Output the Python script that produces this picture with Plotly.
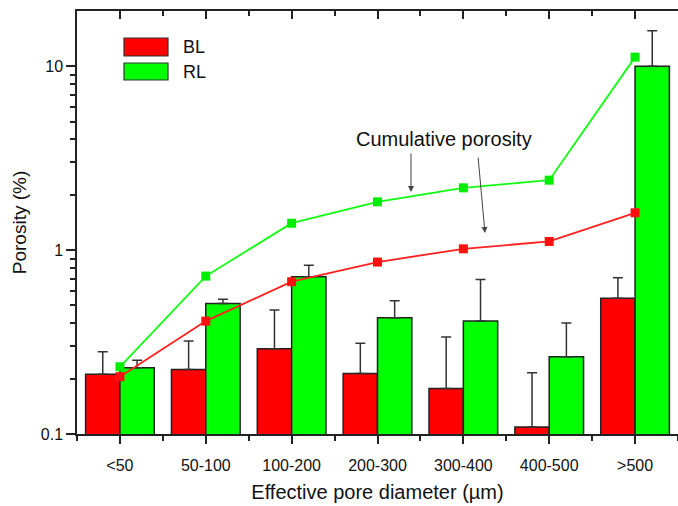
import plotly.graph_objects as go

categories = ["<50", "50-100", "100-200", "200-300", "300-400", "400-500", ">500"]
bl_porosity = [0.211, 0.224, 0.291, 0.213, 0.177, 0.109, 0.548]
bl_err_up = [0.069, 0.096, 0.181, 0.098, 0.160, 0.106, 0.159]
rl_porosity = [0.229, 0.513, 0.716, 0.429, 0.411, 0.263, 10.0]
rl_err_up = [0.023, 0.027, 0.110, 0.102, 0.282, 0.138, 5.6]
bl_cumulative = [0.205, 0.411, 0.673, 0.861, 1.016, 1.114, 1.595]
rl_cumulative = [0.232, 0.722, 1.40, 1.83, 2.18, 2.40, 11.2]
y_tick_vals = [0.1, 1, 10]
y_tick_text = ["0.1", "1", "10"]

RED = "#ff0000"
GREEN = "#00ff00"
FONT = "Arial, Liberation Sans, sans-serif"

xpos = list(range(len(categories)))

fig = go.Figure()
fig.add_trace(go.Bar(
    x=xpos, y=bl_porosity, name="BL", marker=dict(color=RED, line=dict(color="#222", width=1.5)),
    error_y=dict(type="data", array=bl_err_up, arrayminus=[0]*len(bl_err_up), symmetric=False,
                 color="#333", thickness=1.5, width=5),
))
fig.add_trace(go.Bar(
    x=xpos, y=rl_porosity, name="RL", marker=dict(color=GREEN, line=dict(color="#222", width=1.5)),
    error_y=dict(type="data", array=rl_err_up, arrayminus=[0]*len(rl_err_up), symmetric=False,
                 color="#333", thickness=1.5, width=5),
))
fig.add_trace(go.Scatter(
    x=xpos, y=bl_cumulative, mode="lines+markers", xaxis="x2",
    line=dict(color="#ff2020", width=1.8), marker=dict(symbol="square", size=9, color="#ff1010"),
))
fig.add_trace(go.Scatter(
    x=xpos, y=rl_cumulative, mode="lines+markers", xaxis="x2",
    line=dict(color="#10ff10", width=1.8), marker=dict(symbol="square", size=9, color="#00ee00"),
))

minor_x = [i + 0.5 for i in range(-1, len(categories))]
minor_y = [v * m for v in [0.1, 1, 10] for m in range(2, 10) if v * m < 20]

fig.update_layout(
    width=678, height=506,
    margin=dict(l=77, r=0, t=11, b=72),
    paper_bgcolor="white", plot_bgcolor="white",
    showlegend=False,
    barmode="group", bargap=0.2, bargroupgap=0,
    font=dict(family=FONT, size=16, color="#111"),
    xaxis=dict(
        range=[-0.5, 6.5], tickvals=xpos, ticktext=categories,
        ticks="outside", ticklen=8, tickwidth=1.5, tickcolor="#222",
        minor=dict(tickvals=minor_x, ticks="outside", ticklen=5, tickwidth=1.5, tickcolor="#222"),
        showline=True, linecolor="#222", linewidth=1.5, showgrid=False, zeroline=False,
        ticklabelstandoff=8,
        title=dict(text="Effective pore diameter (µm)", font=dict(size=20), standoff=12),
    ),
    xaxis2=dict(
        overlaying="x", side="top", range=[-0.5, 6.5], tickvals=xpos, showticklabels=False,
        ticks="inside", ticklen=8, tickwidth=1.5, tickcolor="#222",
        minor=dict(tickvals=minor_x, ticks="inside", ticklen=5, tickwidth=1.5, tickcolor="#222"),
        showline=True, linecolor="#222", linewidth=1.5, showgrid=False, zeroline=False,
    ),
    yaxis=dict(
        type="log", range=[-1, 1.3], tickvals=y_tick_vals, ticktext=y_tick_text,
        ticks="outside", ticklen=9, tickwidth=1.5, tickcolor="#222",
        minor=dict(tickvals=minor_y, ticks="outside", ticklen=5, tickwidth=1.5, tickcolor="#222"),
        showline=True, linecolor="#222", linewidth=1.5, showgrid=False, zeroline=False,
        title=dict(text="Porosity (%)", font=dict(size=19), standoff=9),
    ),
)

def px(xp):
    return (xp - 77) / 601.0

def py(yp):
    return (434 - yp) / 423.0

# legend boxes
fig.add_shape(type="rect", xref="paper", yref="paper", x0=px(124), x1=px(168), y0=py(56), y1=py(38),
              fillcolor=RED, line=dict(color="#333", width=1.2))
fig.add_shape(type="rect", xref="paper", yref="paper", x0=px(124), x1=px(168), y0=py(80), y1=py(63),
              fillcolor=GREEN, line=dict(color="#333", width=1.2))
fig.add_annotation(xref="paper", yref="paper", x=px(181), y=py(47), text="BL", showarrow=False,
                   xanchor="left", yanchor="middle", font=dict(size=18))
fig.add_annotation(xref="paper", yref="paper", x=px(181), y=py(72), text="RL", showarrow=False,
                   xanchor="left", yanchor="middle", font=dict(size=18))

fig.add_annotation(xref="paper", yref="paper", x=px(444), y=py(139), text="Cumulative porosity",
                   showarrow=False, xanchor="center", yanchor="middle", font=dict(size=20))
fig.add_annotation(xref="paper", yref="paper", x=px(411), y=py(192), text="", showarrow=True,
                   ax=0, ay=-40, arrowhead=2, arrowsize=1.2, arrowwidth=1, arrowcolor="#444")
fig.add_annotation(xref="paper", yref="paper", x=px(485), y=py(233), text="", showarrow=True,
                   ax=-7, ay=-77, arrowhead=2, arrowsize=1.2, arrowwidth=1, arrowcolor="#444")

fig.write_html("out.html")
